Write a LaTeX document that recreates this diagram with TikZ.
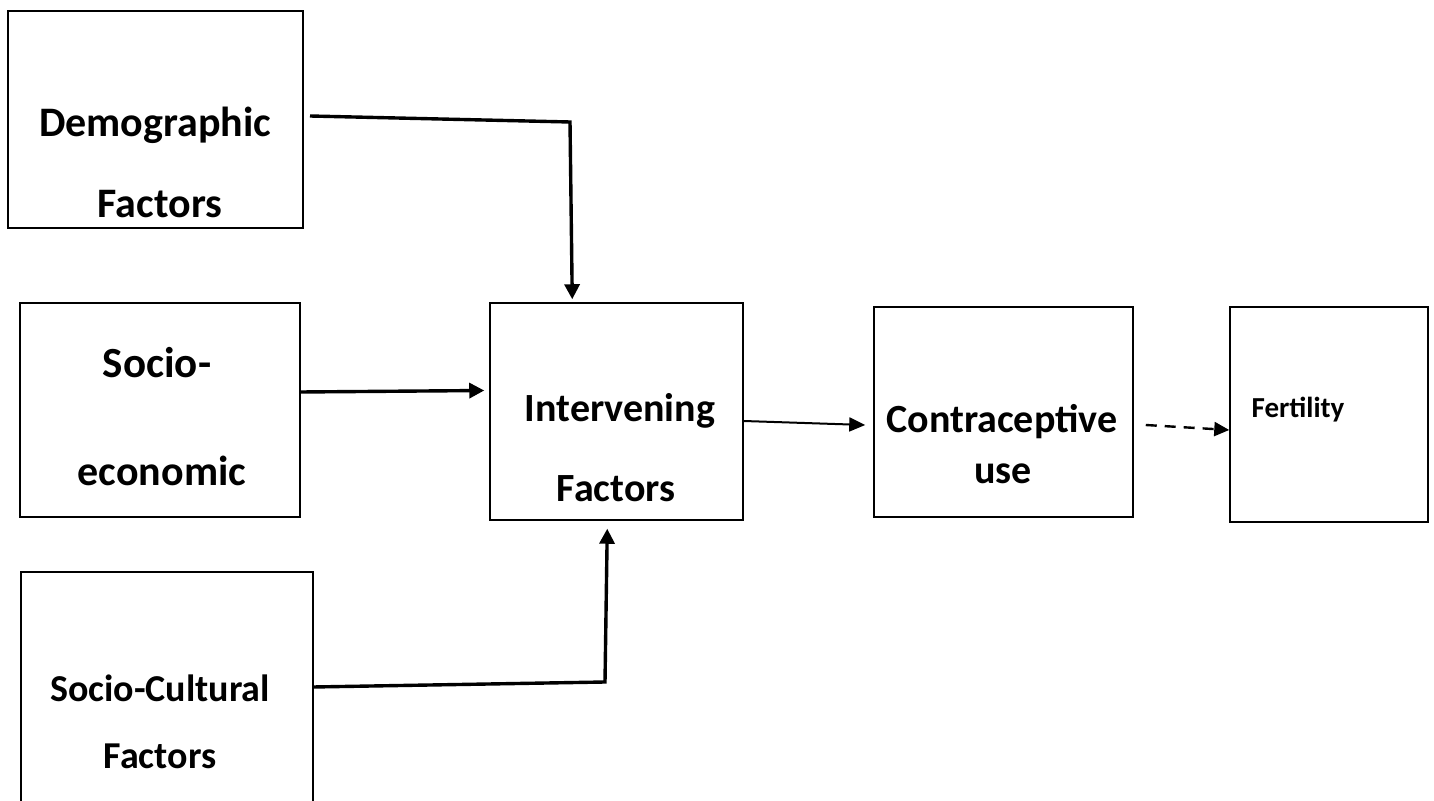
\documentclass[tikz,border=0pt]{standalone}
\usepackage{fontspec}
\setmainfont{Carlito}
\usetikzlibrary{arrows.meta,calc}
\begin{document}
\begin{tikzpicture}[x=0.5pt,y=-0.5pt,
  box/.style={draw,line width=0.75pt,inner sep=0pt},
  lbl/.style={font=\bfseries\fontsize{20}{24}\selectfont,anchor=base,inner sep=0pt},
  thick arrow/.style={line width=1.7pt,-{Triangle[length=7.5pt,width=7.5pt]}},
  thin arrow/.style={line width=1pt,-{Triangle[length=8pt,width=7pt]}}]
\useasboundingbox (0,0) rectangle (1434,801);
% boxes
\node[box,minimum width=147.5pt,minimum height=108.5pt] (demo) at (155.5,119.5) {};
\node[box,minimum width=140pt,minimum height=107pt] (se) at (160,410) {};
\node[box,minimum width=126.5pt,minimum height=108.5pt] (inter) at (616.5,411.5) {};
\node[box,minimum width=129.5pt,minimum height=105pt] (contra) at (1003.5,412) {};
\node[box,minimum width=99pt,minimum height=107.5pt] (fert) at (1329,414.5) {};
\coordinate (scbl) at (21,801);
\coordinate (scbr) at (313,801);
\draw[line width=0.75pt] (scbl) |- (313,572) -- (scbr);
% labels
\node[lbl,font=\bfseries\fontsize{21}{24}\selectfont] (t1) at (155,137) {Demographic};
\node[lbl,font=\bfseries\fontsize{21}{24}\selectfont] (t2) at (160,218) {Factors};
\node[lbl,font=\bfseries\fontsize{21.5}{24}\selectfont] (t3) at (157,378) {Socio-};
\node[lbl,font=\bfseries\fontsize{21}{24}\selectfont] (t4) at (162,486) {economic};
\node[lbl,font=\bfseries\fontsize{19}{24}\selectfont] (t5) at (160,701) {Socio-Cultural};
\node[lbl,font=\bfseries\fontsize{19}{24}\selectfont] (t6) at (160,768) {Factors};
\node[lbl] (t7) at (620,422) {Intervening};
\node[lbl] (t8) at (616,502) {Factors};
\node[lbl] (t9) at (1002,433) {Contraceptive};
\node[lbl] (t10) at (1003,484) {use};
\node[lbl,font=\bfseries\fontsize{14.5}{18}\selectfont] (t11) at (1298,418) {Fertility};
% connectors
\coordinate (d1) at (310,116);
\coordinate (d2) at (570,122);
\draw[thick arrow] (d1) -- (d2) -- ($(inter.north west)+(83,-3)$);
\draw[thick arrow] ($(se.east)+(0,-18)$) -- ($(inter.west)+(-5,-21)$);
\coordinate (c1) at (313,687);
\coordinate (c2) at (605,682);
\draw[thick arrow] (c1) -- (c2) -- ($(inter.south west)+(118,8)$);
\draw[thin arrow] ($(inter.east)+(0,9.5)$) -- ($(contra.west)+(-8,13)$);
\draw[line width=1.2pt,dash pattern=on 5.5pt off 4pt,-{Triangle[length=7.5pt,width=7pt]}] ($(contra.east)+(12,13)$) -- ($(fert.west)+(0,15.5)$);
\end{tikzpicture}
\end{document}
